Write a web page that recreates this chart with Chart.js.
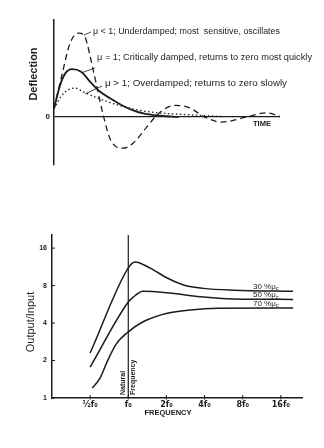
<!DOCTYPE html>
<html>
<head>
<meta charset="utf-8">
<script src="https://cdn.jsdelivr.net/npm/chart.js@4.4.1/dist/chart.umd.min.js"></script>
<style>
  html, body { margin: 0; padding: 0; background: #fff; }
  canvas { display: block; }
</style>
</head>
<body>
<canvas id="timeChart" width="324" height="200"></canvas>
<canvas id="freqChart" width="324" height="248"></canvas>
<script>
// --- top chart: deflection against time (deflection scaled to the underdamped peak)
const timeUnder = [0, 0.35, 0.71, 1.1, 1.37, 1.75, 2.2, 2.5, 3.05, 3.5, 4.1, 4.47, 4.8, 5.35, 6.0, 6.68, 7.4, 8.5, 9.4, 10];
const defUnder = [0.1, 0.5, 0.88, 1.0, 0.95, 0.54, 0.0, -0.27, -0.37, -0.31, -0.12, 0.0, 0.08, 0.14, 0.11, 0.0, -0.06, 0.0, 0.05, 0.01];
const timeCritical = [0, 0.27, 0.5, 0.8, 1.2, 1.6, 2.0, 2.5, 3.0, 3.5, 4.0, 4.5, 5.0, 5.5];
const defCritical = [0.1, 0.38, 0.52, 0.57, 0.54, 0.42, 0.31, 0.22, 0.14, 0.08, 0.04, 0.02, 0.01, 0.0];
const timeOver = [0, 0.3, 0.6, 0.93, 1.3, 1.8, 2.4, 3.0, 3.8, 4.6, 5.5, 6.5, 7.5];
const defOver = [0.1, 0.24, 0.32, 0.345, 0.3, 0.24, 0.18, 0.13, 0.08, 0.05, 0.035, 0.02, 0.005];
const curveNotes = [
  "\u03bc < 1; Underdamped; most  sensitive, oscillates",
  "\u03bc = 1; Critically damped, returns to zero most quickly",
  "\u03bc > 1; Overdamped; returns to zero slowly"
];

// --- bottom chart: output/input against frequency (multiples of f0)
const freq30 = [0.5, 1, 1.13, 1.5, 2.03, 2.73, 3.93, 6.8, 20];
const gain30 = [2.3, 11.1, 12.4, 11.0, 9.2, 8.1, 7.6, 7.35, 7.2];
const freq50 = [0.5, 1, 1.1, 1.31, 2.03, 3.7, 6.8, 20];
const gain50 = [1.77, 5.9, 6.5, 7.2, 7.0, 6.5, 6.25, 6.2];
const freq70 = [0.52, 0.6, 0.68, 0.8, 1, 1.31, 2.03, 3.1, 5.1, 20];
const gain70 = [1.2, 1.45, 1.95, 2.7, 3.4, 4.1, 4.8, 5.1, 5.25, 5.28];
const dampingLabels = ["30 %\u03bc", "50 %\u03bc", "70 %\u03bc"];
const freqTicks = [0.5, 1, 2, 4, 8, 16];
const freqTickLabels = ["\u00bdf\u2080", "f\u2080", "2f\u2080", "4f\u2080", "8f\u2080", "16f\u2080"];
const gainTicks = [1, 2, 4, 8, 16];

const ink = "#1c1c1c";
const family = "'Liberation Sans', Arial, sans-serif";

function pts(xs, ys) {
  return xs.map((x, i) => ({ x, y: ys[i] }));
}

// width: optional target width, text is stretched horizontally to fit
function drawText(ctx, s, x, y, font, align = "left", rot = 0, width = 0) {
  ctx.save();
  ctx.translate(x, y);
  ctx.rotate(rot);
  ctx.font = font;
  ctx.fillStyle = ink;
  ctx.textAlign = align;
  ctx.textBaseline = "middle";
  if (width) ctx.scale(width / ctx.measureText(s).width, 1);
  ctx.fillText(s, 0, 0);
  ctx.restore();
}

function line(ctx, x1, y1, x2, y2, w = 1) {
  ctx.save();
  ctx.strokeStyle = ink;
  ctx.lineWidth = w;
  ctx.beginPath();
  ctx.moveTo(x1, y1);
  ctx.lineTo(x2, y2);
  ctx.stroke();
  ctx.restore();
}

const timeNotes = {
  id: "timeNotes",
  afterDraw(chart) {
    const ctx = chart.ctx;
    const f = "8.5px " + family;
    drawText(ctx, curveNotes[0], 93, 32, f, "left", 0, 187);
    drawText(ctx, curveNotes[1], 97, 58, f, "left", 0, 215);
    drawText(ctx, curveNotes[2], 105, 84, f, "left", 0, 182);
    // leader lines from notes to curves
    line(ctx, 84, 35, 91, 32, 0.8);
    line(ctx, 81, 73, 95, 68, 0.8);
    line(ctx, 85, 94, 102, 86, 0.8);
    drawText(ctx, "Deflection", 34, 74, "bold 11px " + family, "center", -Math.PI / 2);
    drawText(ctx, "TIME", 262, 124, "bold 7.5px " + family, "center");
  }
};

const freqNotes = {
  id: "freqNotes",
  afterDraw(chart) {
    const ctx = chart.ctx;
    const xs = chart.scales.x, ys = chart.scales.y;
    // inward tick marks
    xs.ticks.forEach((t) => {
      const px = xs.getPixelForValue(t.value);
      line(ctx, px, ys.bottom - 3, px, ys.bottom + 1.5, 1);
    });
    ys.ticks.forEach((t) => {
      const py = ys.getPixelForValue(t.value);
      line(ctx, xs.left, py, xs.left + 3, py, 1);
    });
    const fx = xs.getPixelForValue(1);
    drawText(ctx, "Natural", fx - 5, ys.bottom - 3, "bold 7px " + family, "left", -Math.PI / 2);
    drawText(ctx, "Frequency", fx + 5, ys.bottom - 3, "bold 7px " + family, "left", -Math.PI / 2);
    drawText(ctx, "Output/Input", 31, 122, "11px " + family, "center", -Math.PI / 2);
    drawText(ctx, "FREQUENCY", 168, 213, "bold 6.5px " + family, "center", 0, 47);
    // damping labels sitting on the curve ends
    const ends = [gain30, gain50, gain70].map((g) => g[g.length - 1]);
    ends.forEach((g, i) => {
      const py = ys.getPixelForValue(g) - 4.5;
      ctx.save();
      ctx.font = "8px " + family;
      ctx.fillStyle = ink;
      ctx.textBaseline = "middle";
      ctx.fillText(dampingLabels[i], 253, py);
      const w = ctx.measureText(dampingLabels[i]).width;
      ctx.font = "6px " + family;
      ctx.fillText("c", 253 + w, py + 2);
      ctx.restore();
    });
  }
};

const lineBase = { pointRadius: 0, fill: false, borderColor: ink, cubicInterpolationMode: "monotone" };

new Chart(document.getElementById("timeChart"), {
  type: "line",
  data: {
    datasets: [
      { ...lineBase, label: "Underdamped", data: pts(timeUnder, defUnder), borderWidth: 1.3, borderDash: [6, 4] },
      { ...lineBase, label: "Critically damped", data: pts(timeCritical, defCritical), borderWidth: 1.8 },
      { ...lineBase, label: "Overdamped", data: pts(timeOver, defOver), borderWidth: 1.3, borderDash: [1.5, 2.5] }
    ]
  },
  options: {
    responsive: false,
    animation: false,
    devicePixelRatio: 1,
    layout: { padding: { top: 20, right: 44, bottom: 35, left: 0 } },
    plugins: { legend: { display: false }, tooltip: { enabled: false } },
    scales: {
      x: { type: "linear", min: 0, max: 10, display: false },
      y: {
        type: "linear",
        min: -0.57,
        max: 1.155,
        afterFit(s) { s.width = 54; },
        afterBuildTicks(s) { s.ticks = [{ value: 0 }]; },
        ticks: { padding: 4, color: ink, font: { family, size: 8, weight: "bold" }, callback: () => "0" },
        grid: { drawTicks: false, color: ink, lineWidth: 1.2 },
        border: { display: true, color: ink, width: 1.5 }
      }
    }
  },
  plugins: [timeNotes]
});

const gainMax = 20.4;

new Chart(document.getElementById("freqChart"), {
  type: "line",
  data: {
    datasets: [
      { ...lineBase, label: "30%", data: pts(freq30, gain30), borderWidth: 1.5 },
      { ...lineBase, label: "50%", data: pts(freq50, gain50), borderWidth: 1.5 },
      { ...lineBase, label: "70%", data: pts(freq70, gain70), borderWidth: 1.5 },
      { ...lineBase, label: "Natural frequency", data: [{ x: 1, y: 1 }, { x: 1, y: gainMax }], borderWidth: 1.2, cubicInterpolationMode: "default", tension: 0 }
    ]
  },
  options: {
    responsive: false,
    animation: false,
    devicePixelRatio: 1,
    layout: { padding: { top: 35, right: 22, bottom: 0, left: 0 } },
    plugins: { legend: { display: false }, tooltip: { enabled: false } },
    scales: {
      x: {
        type: "logarithmic",
        min: 0.25,
        max: 23.5,
        afterFit(s) { s.height = 50; },
        afterBuildTicks(s) { s.ticks = freqTicks.map((v) => ({ value: v })); },
        ticks: {
          padding: 2, autoSkip: false, maxRotation: 0, color: ink,
          font: { family: "'DejaVu Sans', sans-serif", size: 8, weight: "bold" },
          callback: (v) => freqTickLabels[freqTicks.indexOf(v)]
        },
        grid: { display: false, drawTicks: false },
        border: { display: true, color: ink, width: 1.5 }
      },
      y: {
        type: "logarithmic",
        min: 1,
        max: gainMax,
        afterFit(s) { s.width = 52; },
        afterBuildTicks(s) { s.ticks = gainTicks.map((v) => ({ value: v })); },
        ticks: {
          padding: 5, color: ink,
          font: { family, size: 7, weight: "bold" },
          callback: (v) => String(v)
        },
        grid: { display: false, drawTicks: false },
        border: { display: true, color: ink, width: 1.5 }
      }
    }
  },
  plugins: [freqNotes]
});
</script>
</body>
</html>
